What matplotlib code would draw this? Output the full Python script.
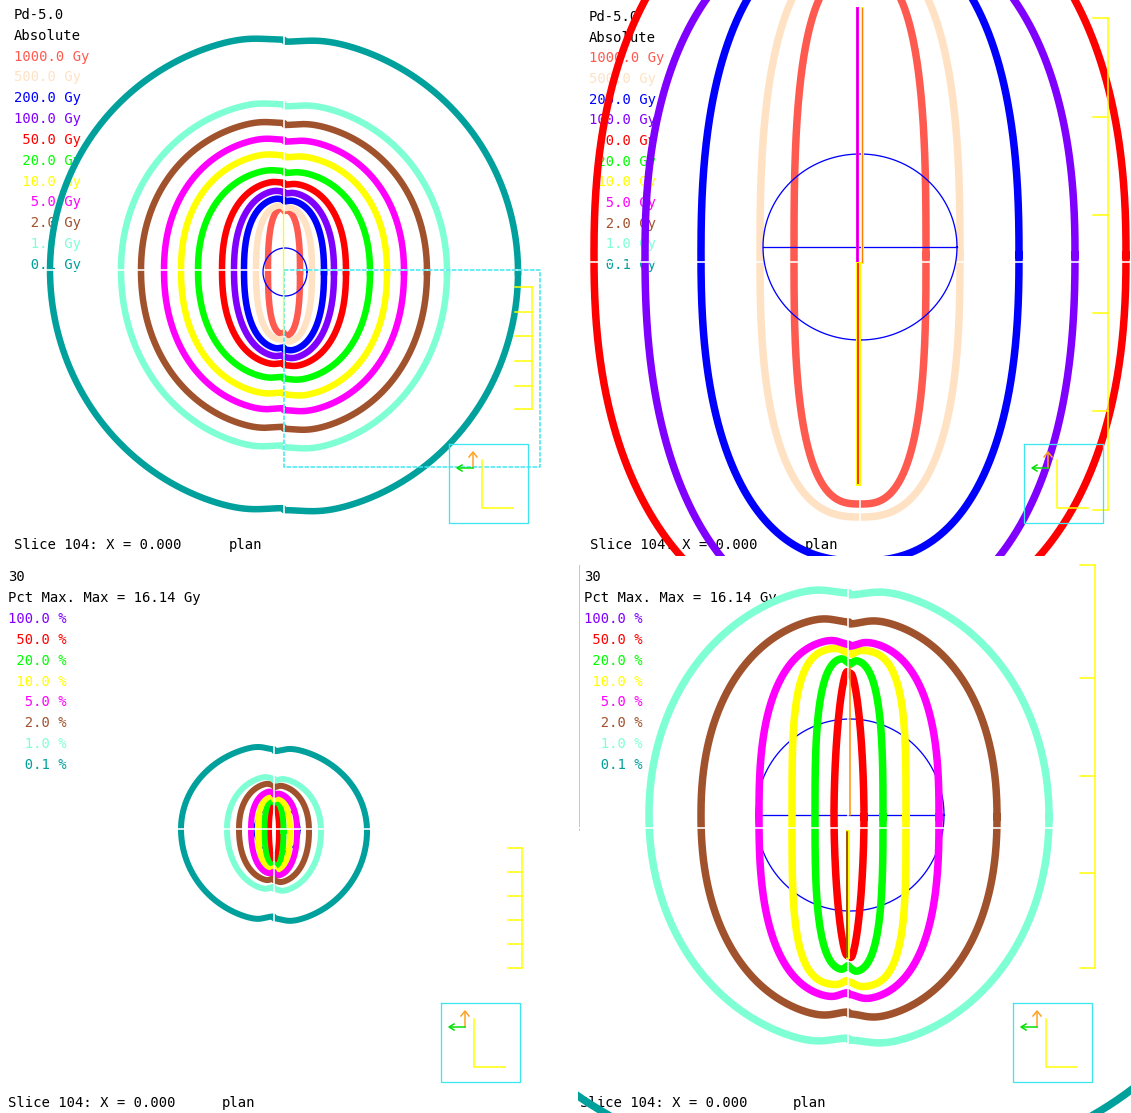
import numpy as np
import matplotlib
matplotlib.use("Agg")
import matplotlib.pyplot as plt

W, H = 1131, 1113
PT = 72 / 100  # points per pixel at dpi 100

# ---- data -------------------------------------------------------------
abs_levels = [1000.0, 500.0, 200.0, 100.0, 50.0, 20.0, 10.0, 5.0, 2.0, 1.0, 0.1]
abs_colors = ["#ff5a50", "#ffe2c4", "#0000ff", "#8000ff", "#ff0000", "#00ff00",
              "#ffff00", "#ff00ff", "#a0522d", "#7fffd4", "#00a09c"]
pct_levels = [100.0, 50.0, 20.0, 10.0, 5.0, 2.0, 1.0, 0.1]
pct_colors = ["#8000ff", "#ff0000", "#00ff00", "#ffff00", "#ff00ff",
              "#a0522d", "#7fffd4", "#00a09c"]
max_dose = 16.14

# isodose extents (half width, extent above, extent below)
tl_half_width = [16, 28, 40, 50, 62, 86, 103, 120, 143, 163, 234]
tl_half_top = [62, 65, 72, 80, 89, 101, 117, 133, 150, 169, 235]
tl_half_bottom = [64, 70, 79, 87, 95, 109, 125, 141, 160, 179, 243]

tr_half_width = [66, 100, 159, 215, 266, None, None, None, None, None, None]
tr_half_top = [285, 305, 325, 335, 385, None, None, None, None, None, None]
tr_half_bottom = [249, 262, 306, 368, 377, None, None, None, None, None, None]

bl_half_width = [None, 5, 9.5, 16, 23, 35, 47, 93]
bl_half_top = [None, 27, 30, 33, 38, 46, 53, 84]
bl_half_bottom = [None, 33, 37, 41, 45, 52, 61, 92]

br_half_width = [None, 15, 34, 57, 90, 148, 200, 410]
br_half_top = [None, 147, 157, 167, 176, 199, 229, 355]
br_half_bottom = [None, 144, 155, 170, 183, 203, 230, 355]

# ---- views ------------------------------------------------------------
views = {
    "tl": dict(box=(0, 0, 566, 556), center=(284, 270), split=(284, 270),
               exps=[2.6, 2.5, 2.4, 2.3, 2.3, 2.2, 2.2, 2.15, 2.1, 2.05, 2.0],
               lw=6.5, notch=0.02, shift=2),
    "tr": dict(box=(580, 0, 1131, 556), center=(860, 255), split=(860, 262),
               exps=[2.8, 2.6, 2.4, 2.3, 2.3] + [2.2] * 6,
               lw=7.5, notch=0.0, shift=0),
    "bl": dict(box=(0, 562, 572, 1113), center=(274, 829), split=(274, 829),
               exps=[2.0, 2.0, 2.3, 2.4, 2.3, 2.2, 2.1, 2.0],
               lw=6, notch=0.05, shift=2),
    "br": dict(box=(578, 562, 1131, 1113), center=(849, 815), split=(848, 828),
               exps=[2.0, 1.8, 3.0, 3.6, 2.6, 2.2, 2.05, 2.2],
               lw=7.5, notch=0.03, shift=2),
}

MONO = "DejaVu Sans Mono"
CYAN = "#3fe6f0"


def isodose(hw, top, bottom, n, notch, shift):
    t = np.linspace(0, 2 * np.pi, 1441)
    c, s = np.cos(t), np.sin(t)
    x = hw * np.sign(c) * np.abs(c) ** (2 / n)
    y = np.sign(s) * np.abs(s) ** (2 / n)
    y = np.where(y > 0, y * bottom, y * top)
    y = y * (1 - notch * np.exp(-(x / (0.13 * hw)) ** 2))
    y = y + np.where(x > 0, shift, 0)
    return x, y


def make_axes(box):
    x0, y0, x1, y1 = box
    ax = fig.add_axes([x0 / W, 1 - y1 / H, (x1 - x0) / W, (y1 - y0) / H])
    ax.set_xlim(x0, x1)
    ax.set_ylim(y1, y0)
    ax.axis("off")
    return ax


def draw_isodoses(ax, view, widths, tops, bottoms, colors):
    cx, cy = view["center"]
    ext = []
    for hw, top, bot, col, n in zip(widths, tops, bottoms, colors, view["exps"]):
        if hw is None:
            continue
        x, y = isodose(hw, top, bot, n, view["notch"], view["shift"])
        ax.plot(cx + x, cy + y, color=col, lw=view["lw"] * PT,
                solid_joinstyle="round", zorder=3)
        ext.append((hw, top, bot))
    # white seams where the slice quadrants meet
    sx, sy = view["split"]
    hw_max = max(e[0] for e in ext) + 10
    top_max = max(e[1] for e in ext) + 15
    bot_max = max(e[2] for e in ext) + 15
    ax.plot([sx, sx], [cy - top_max, cy + bot_max], color="white", lw=1.6 * PT, zorder=4)
    ax.plot([cx - hw_max, cx + hw_max], [sy, sy], color="white", lw=1.6 * PT, zorder=4)


def legend_text(ax, x, y0, step, header, labels, colors):
    for i, h in enumerate(header):
        ax.text(x, y0 + i * step, h, color="black", family=MONO, fontsize=10,
                ha="left", va="center", zorder=1)
    for i, (lab, col) in enumerate(zip(labels, colors)):
        ax.text(x, y0 + (len(header) + i) * step, lab, color=col, family=MONO,
                fontsize=10, ha="left", va="center", zorder=1)


def footer(ax, x, y, plan_x):
    ax.text(x, y, "Slice 104: X = 0.000", family=MONO, fontsize=10,
            ha="left", va="center", zorder=1)
    ax.text(plan_x, y, "plan", family=MONO, fontsize=10, ha="left",
            va="center", zorder=1)


def ruler(ax, x, ticks, length):
    ax.plot([x, x], [ticks[0], ticks[-1]], color="#ffff00", lw=1.5 * PT, zorder=5)
    for t in ticks:
        ax.plot([x - length, x], [t, t], color="#ffff00", lw=1.5 * PT, zorder=5)


def orient_box(ax, x0, y0, size=79):
    ax.plot([x0, x0 + size, x0 + size, x0, x0], [y0, y0, y0 + size, y0 + size, y0],
            color=CYAN, lw=1.3 * PT, zorder=5)
    ax.plot([x0 + 24, x0 + 24], [y0 + 24, y0 + 9], color="#ffa020", lw=1.5 * PT, zorder=6)
    ax.plot([x0 + 20, x0 + 24, x0 + 28], [y0 + 13, y0 + 8, y0 + 13], color="#ffa020",
            lw=1.5 * PT, zorder=6)
    ax.plot([x0 + 24, x0 + 9], [y0 + 24, y0 + 24], color="#00e000", lw=1.5 * PT, zorder=6)
    ax.plot([x0 + 13, x0 + 8, x0 + 13], [y0 + 21, y0 + 24, y0 + 27], color="#00e000",
            lw=1.5 * PT, zorder=6)
    ax.plot([x0 + 33, x0 + 33, x0 + 64], [y0 + 16, y0 + 64, y0 + 64], color="#ffff00",
            lw=1.5 * PT, zorder=6)


def circle(ax, cx, cy, rx, ry, z, diameter=False):
    t = np.linspace(0, 2 * np.pi, 400)
    ax.plot(cx + rx * np.cos(t), cy + ry * np.sin(t), color="#0000ff",
            lw=1.3 * PT, zorder=z)
    if diameter:
        ax.plot([cx - rx, cx + rx], [cy, cy], color="#0000ff", lw=1.3 * PT, zorder=z)


fig = plt.figure(figsize=(W / 100, H / 100), dpi=100)
fig.patch.set_facecolor("white")

abs_labels = [f"{v:5.1f} Gy" for v in abs_levels]
pct_labels = [f"{v:5.1f} %" for v in pct_levels]
pct_header = ["30", f"Pct Max. Max = {max_dose:.2f} Gy"]

# ---- top left: absolute dose, wide view --------------------------------
ax = make_axes(views["tl"]["box"])
legend_text(ax, 14, 15, 20.83, ["Pd-5.0", "Absolute"], abs_labels, abs_colors)
footer(ax, 14, 545, 229)
draw_isodoses(ax, views["tl"], tl_half_width, tl_half_top, tl_half_bottom, abs_colors)
circle(ax, 285, 272, 22, 24, 5)
ax.plot([283, 283], [210, 333], color="#ffff00", lw=1.3 * PT, zorder=6)
ax.plot([284, 540, 540, 284, 284], [270, 270, 467, 467, 270], color=CYAN,
        lw=1.5 * PT, ls=(0, (3, 1)), zorder=5)
ruler(ax, 532, [287, 312, 336, 361, 386, 409], 17)
orient_box(ax, 449, 444)

# ---- top right: absolute dose, zoomed ----------------------------------
ax = make_axes(views["tr"]["box"])
legend_text(ax, 589, 17, 20.67, ["Pd-5.0", "Absolute"], abs_labels, abs_colors)
footer(ax, 590, 545, 805)
draw_isodoses(ax, views["tr"], tr_half_width, tr_half_top, tr_half_bottom, abs_colors)
circle(ax, 860, 247, 97, 93, 5, diameter=True)
ax.plot([856.5, 856.5], [8, 262], color="#ff00ff", lw=3 * PT, zorder=6)
ax.plot([856.5, 856.5], [8, 262], color="#800020", lw=1 * PT, zorder=6)
ax.plot([862, 862], [8, 262], color="#ffff00", lw=3 * PT, zorder=6)
ax.plot([862, 862], [8, 262], color="#ff8000", lw=1 * PT, zorder=6)
ax.plot([858, 858], [264, 483], color="#ffff00", lw=5 * PT, zorder=6)
ax.plot([858, 858], [264, 483], color="#ff3020", lw=2 * PT, zorder=6)
ruler(ax, 1108, [18, 117, 215, 313, 411, 510], 15)
orient_box(ax, 1024, 444)

# ---- bottom left: percent of max, wide view ----------------------------
ax = make_axes(views["bl"]["box"])
legend_text(ax, 8, 577, 20.9, pct_header, pct_labels, pct_colors)
footer(ax, 8, 1103, 222)
circle(ax, 277, 830, 23, 23, 2)
draw_isodoses(ax, views["bl"], bl_half_width, bl_half_top, bl_half_bottom, pct_colors)
ruler(ax, 522, [848, 872, 896, 920, 944, 968], 14)
orient_box(ax, 441, 1003)

# ---- bottom right: percent of max, zoomed ------------------------------
ax = make_axes(views["br"]["box"])
legend_text(ax, 584, 577, 20.9, pct_header, pct_labels, pct_colors)
footer(ax, 580, 1103, 793)
circle(ax, 850, 815, 94, 96, 2, diameter=True)
draw_isodoses(ax, views["br"], br_half_width, br_half_top, br_half_bottom, pct_colors)
ax.plot([850, 850], [667, 815], color="#ff9000", lw=1.5 * PT, zorder=6)
ax.plot([848, 848], [832, 957], color="#ffff00", lw=4 * PT, zorder=6)
ax.plot([846.5, 846.5], [832, 957], color="#802000", lw=1.5 * PT, zorder=6)
ax.plot([579, 579], [565, 830], color="#c8c8c8", lw=1 * PT, zorder=1)
ruler(ax, 1095, [565, 678, 776, 873, 968], 15)
orient_box(ax, 1013, 1003)

fig.savefig("out.png", dpi=100, facecolor="white")
